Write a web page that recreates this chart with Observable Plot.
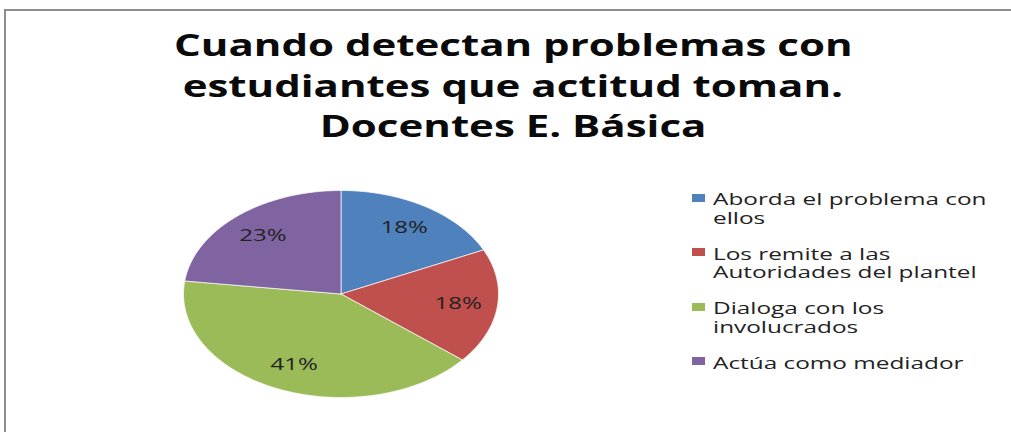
<!DOCTYPE html>
<html>
<head>
<meta charset="utf-8">
<script src="https://cdn.jsdelivr.net/npm/d3@7"></script>
<script src="https://cdn.jsdelivr.net/npm/@observablehq/plot@0.6"></script>
<style>
  html, body { margin: 0; padding: 0; background: #fff; }
  #root { position: relative; width: 1011px; height: 432px; overflow: hidden; background: #fff; }
  #frame { position: absolute; left: 4px; top: 9px; width: 1100px; height: 500px;
           border-top: 2px solid #8e8e8e; border-left: 2px solid #8e8e8e; }
  #title { position: absolute; top: 25px; left: 0; width: 1026px; text-align: center;
           font-family: "Open Sans", sans-serif; font-weight: 700; font-size: 30px;
           line-height: 40.5px; color: #0a0a0a; }
  #title span { display: inline-block; transform: scaleX(1.40); transform-origin: center; white-space: nowrap; }
  #chart { position: absolute; left: 0; top: 165px; }
  .entry { position: absolute; left: 692px; }
  .sw { position: absolute; left: 0; width: 13px; height: 8px; }
  .lab { position: absolute; left: 21px; top: 0; width: 188px;
         font-family: "Open Sans", sans-serif; font-size: 15.5px; line-height: 18.5px; color: #222;
         transform: scaleX(1.57); transform-origin: left top; }
</style>
</head>
<body>
<div id="root">
  <div id="frame"></div>
  <div id="title"></div>
  <div id="chart"></div>
  <div id="legend"></div>
</div>
<script>
const titleLines = ["Cuando detectan problemas con", "estudiantes que actitud toman.", "Docentes E. Básica"];
const categories = ["Aborda el problema con ellos", "Los remite a las Autoridades del plantel", "Dialoga con los involucrados", "Actúa como mediador"];
const values = [18, 18, 41, 23];
const colors = ["#4F81BD", "#C0504D", "#9BBB59", "#8064A2"];

// title
const title = document.getElementById("title");
for (const t of titleLines) {
  const d = document.createElement("div");
  const s = document.createElement("span");
  s.textContent = t;
  d.appendChild(s);
  title.appendChild(d);
}

// slices
const total = d3.sum(values);
let cum = 0;
const slices = categories.map((c, i) => {
  const a0 = cum / total * 2 * Math.PI;
  cum += values[i];
  const a1 = cum / total * 2 * Math.PI;
  return {cat: c, value: values[i], pct: Math.round(values[i] / total * 100), a0, a1, mid: (a0 + a1) / 2};
});
const wedgePoints = [];
for (const s of slices) {
  wedgePoints.push({cat: s.cat, px: 0, py: 0});
  const n = Math.max(2, Math.ceil((s.a1 - s.a0) / (Math.PI / 180)));
  for (let k = 0; k <= n; k++) {
    const a = s.a0 + (s.a1 - s.a0) * k / n;
    wedgePoints.push({cat: s.cat, px: Math.sin(a), py: Math.cos(a)});
  }
  wedgePoints.push({cat: s.cat, px: 0, py: 0});
}

const plot = Plot.plot({
  width: 600,
  height: 260,
  margin: 0,
  x: {domain: [-1, 1], range: [183, 498], axis: null},
  y: {domain: [-1, 1], range: [232, 25], axis: null},
  color: {type: "ordinal", domain: categories, range: colors},
  marks: [
    Plot.line(wedgePoints, {x: "px", y: "py", z: "cat", fill: "cat", stroke: "#ffffff", strokeWidth: 1, strokeOpacity: 0.7, curve: "linear"}),
    Plot.text(slices, {
      x: d => 0.75 * Math.sin(d.mid),
      y: d => 0.75 * Math.cos(d.mid),
      text: d => d.pct + "%",
      fill: "#222",
      fontSize: 15.5,
      fontFamily: "Open Sans",
      textAnchor: "middle",
      lineAnchor: "middle"
    })
  ]
});
document.getElementById("chart").appendChild(plot);
// stretch the percentage labels horizontally like the reference
plot.querySelectorAll('g[aria-label="text"] text').forEach(t => {
  const tr = t.getAttribute("transform");
  if (tr) t.setAttribute("transform", tr + " scale(1.55,1)");
});

// legend
const legend = document.getElementById("legend");
const tops = [190, 244.5, 299, 353.5];
categories.forEach((c, i) => {
  const e = document.createElement("div");
  e.className = "entry";
  e.style.top = tops[i] + "px";
  const sw = document.createElement("div");
  sw.className = "sw";
  sw.style.top = "3.5px";
  sw.style.background = colors[i];
  const lab = document.createElement("div");
  lab.className = "lab";
  lab.textContent = c;
  e.appendChild(sw);
  e.appendChild(lab);
  legend.appendChild(e);
});
</script>
</body>
</html>
